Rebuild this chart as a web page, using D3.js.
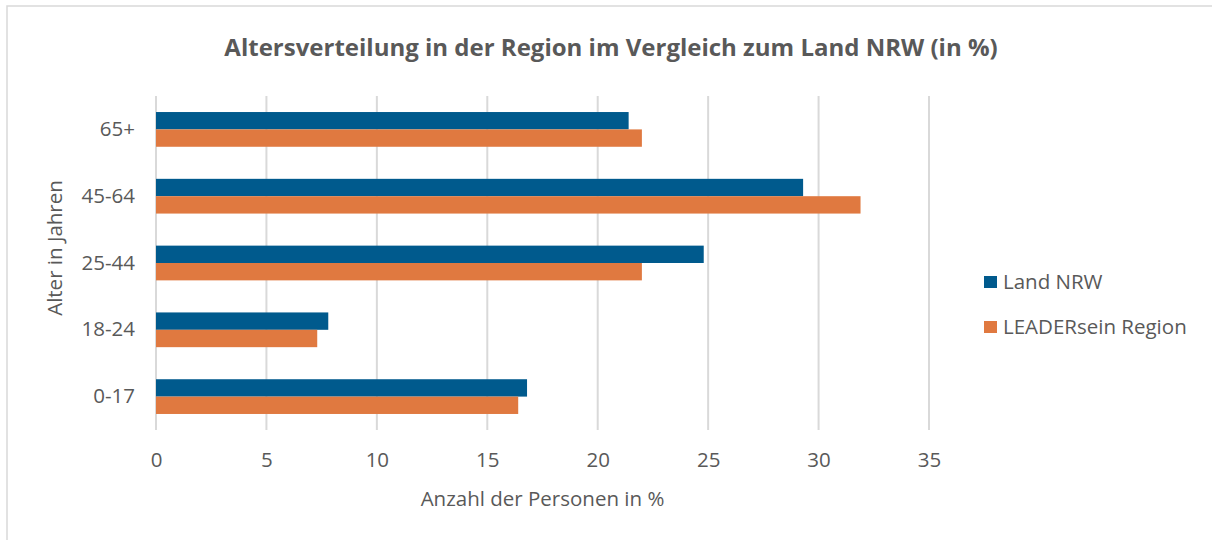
<!DOCTYPE html>
<html>
<head>
<meta charset="utf-8">
<script src="https://cdn.jsdelivr.net/npm/d3@7"></script>
<style>
  body { margin: 0; background: #fff; }
  svg { display: block; font-family: "Open Sans", sans-serif; }
</style>
</head>
<body>
<svg width="1212" height="540"></svg>
<script>
// data
let categories = ["65+", "45-64", "25-44", "18-24", "0-17"];
let seriesNames = ["Land NRW", "LEADERsein Region"];
let landNRW = [21.4, 29.3, 24.8, 7.8, 16.8];
let region = [22.0, 31.9, 22.0, 7.3, 16.4];
let xTicks = [0, 5, 10, 15, 20, 25, 30, 35];

let colors = ["#005a8d", "#e07940"];
let textColor = "#595959";
let fs = "20.5px";

let svg = d3.select("svg"),
    margin = {top: 96, left: 156, right: 283, bottom: 110},
    width = 1212 - margin.left - margin.right,
    height = 540 - margin.top - margin.bottom;

// chart border (only top/left visible)
svg.append("rect")
    .attr("x", 7).attr("y", 6)
    .attr("width", 1220).attr("height", 560)
    .attr("fill", "none")
    .attr("stroke", "#d9d9d9")
    .attr("stroke-width", 1.5);

let x = d3.scaleLinear().domain([0, 35]).range([0, width]);
let y = d3.scaleBand().domain(categories).range([0, height])
    .paddingInner(0.48).paddingOuter(0.24);
let ySub = d3.scaleBand().domain(seriesNames).range([0, y.bandwidth()]);

let g = svg.append("g")
    .attr("transform", "translate(" + margin.left + "," + margin.top + ")");

// gridlines
g.selectAll(".grid")
    .data(xTicks)
    .enter().append("line")
    .attr("x1", d => x(d)).attr("x2", d => x(d))
    .attr("y1", 0).attr("y2", height)
    .attr("stroke", "#d9d9d9")
    .attr("stroke-width", 2);

let rows = categories.map((c, i) => ({cat: c, vals: [landNRW[i], region[i]]}));

let grp = g.selectAll(".cat")
    .data(rows)
    .enter().append("g")
    .attr("transform", d => "translate(0," + y(d.cat) + ")");

grp.selectAll("rect")
    .data(d => d.vals.map((v, j) => ({v: v, s: seriesNames[j], j: j})))
    .enter().append("rect")
    .attr("x", x(0))
    .attr("y", d => ySub(d.s))
    .attr("width", d => x(d.v) - x(0))
    .attr("height", ySub.bandwidth())
    .attr("fill", d => colors[d.j]);

// x axis
let xAxis = g.append("g")
    .attr("transform", "translate(0," + height + ")")
    .call(d3.axisBottom(x).tickValues(xTicks).tickSize(0).tickPadding(22));
xAxis.select(".domain").remove();
xAxis.selectAll("text")
    .attr("fill", textColor)
    .style("font-size", fs)
    .style("font-family", "Open Sans");

// y axis
let yAxis = g.append("g")
    .call(d3.axisLeft(y).tickSize(0).tickPadding(21));
yAxis.select(".domain").remove();
yAxis.selectAll("text")
    .attr("fill", textColor)
    .style("font-size", fs)
    .style("font-family", "Open Sans");

// title
svg.append("text")
    .attr("x", 611).attr("y", 56)
    .attr("text-anchor", "middle")
    .attr("fill", textColor)
    .style("font-size", "24px")
    .style("font-weight", "bold")
    .text("Altersverteilung in der Region im Vergleich zum Land NRW (in %)");

// axis titles
svg.append("text")
    .attr("x", margin.left + width / 2).attr("y", 506)
    .attr("text-anchor", "middle")
    .attr("fill", textColor)
    .style("font-size", fs)
    .text("Anzahl der Personen in %");

svg.append("text")
    .attr("transform", "translate(62," + 248 + ") rotate(-90)")
    .attr("text-anchor", "middle")
    .attr("fill", textColor)
    .style("font-size", fs)
    .text("Alter in Jahren");

// legend
let legend = svg.append("g").attr("transform", "translate(984,276)");
let li = legend.selectAll("g")
    .data(seriesNames)
    .enter().append("g")
    .attr("transform", (d, i) => "translate(0," + (i * 45) + ")");
li.append("rect")
    .attr("width", 13).attr("height", 12)
    .attr("fill", (d, i) => colors[i]);
li.append("text")
    .attr("x", 19).attr("y", 6)
    .attr("dy", "0.35em")
    .attr("fill", textColor)
    .style("font-size", fs)
    .text(d => d);
</script>
</body>
</html>
